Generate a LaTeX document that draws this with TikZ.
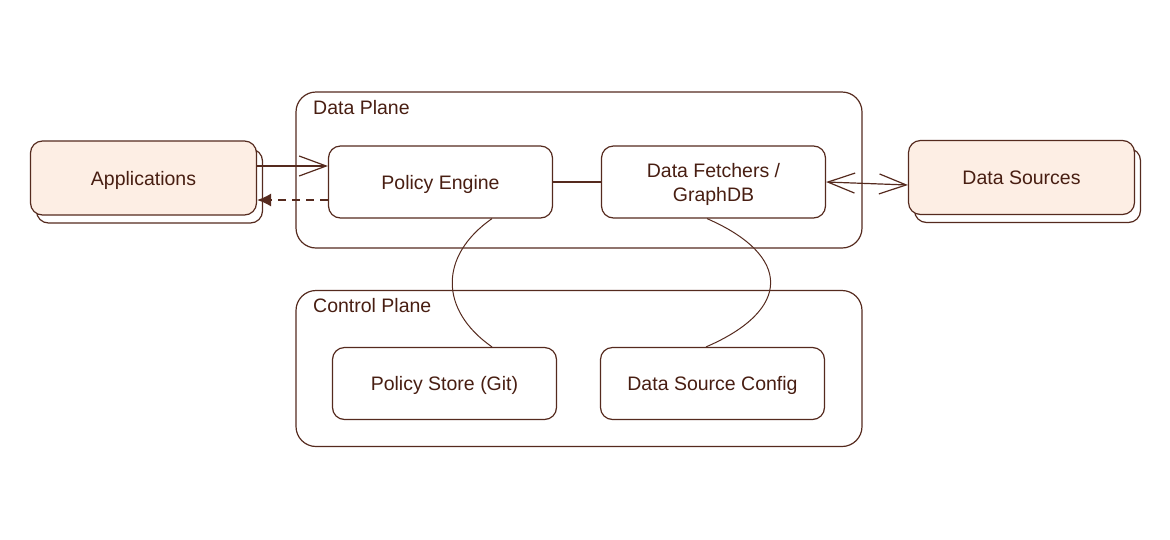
\documentclass[tikz,border=0pt]{standalone}
\usepackage{fontspec}
\setmainfont{Liberation Sans}
\usetikzlibrary{arrows.meta,shadows}
\definecolor{strokec}{RGB}{85,42,30}
\definecolor{textc}{RGB}{72,30,18}
\definecolor{peach}{RGB}{253,238,228}
\tikzset{
  base/.style={draw=strokec, line width=1.2pt, rounded corners=12pt, inner sep=0pt,
     text=textc, font=\fontsize{19.5}{24}\selectfont, align=center},
  inner/.style={base, fill=white, minimum width=224pt, minimum height=72pt, text depth=-3pt},
  ext/.style={base, fill=peach, minimum width=226pt, minimum height=74pt, text depth=-2pt,
     copy shadow={shadow xshift=6pt, shadow yshift=-8pt, fill=white, draw=strokec}},
  cont/.style={base, rounded corners=20pt, minimum width=566pt, minimum height=156pt},
  clabel/.style={text=textc, font=\fontsize{19.5}{24}\selectfont, inner sep=0pt, anchor=base west},
  conn/.style={draw=strokec, line width=1.2pt},
  barb/.tip={Straight Barb[length=27pt, width=20pt, line width=1.2pt]},
}
\begin{document}
\begin{tikzpicture}[x=1pt,y=-1pt]
\useasboundingbox (0,0) rectangle (1170,539);
\node[cont] (dp) at (579,170) {};
\node[cont] (cp) at (579,368.5) {};
\node[clabel] (dpl) at (313,114) {Data Plane};
\node[clabel] (cpl) at (313,312) {Control Plane};
\node[ext] (app) at (143.5,178) {Applications};
\node[ext] (ds) at (1021.5,177.5) {Data Sources};
\node[inner] (pe) at (440.5,182) {Policy Engine};
\node[inner] (df) at (713.5,182) {Data Fetchers /\\GraphDB};
\node[inner] (ps) at (444.5,383.5) {Policy Store (Git)};
\node[inner] (dsc) at (712.5,383.5) {Data Source Config};
% connectors
\draw[conn, -barb] ([yshift=12pt]app.east) -- ([yshift=12pt]app.east -| pe.west);
\draw[conn, dashed, dash pattern=on 8pt off 6pt, -{Latex[length=14pt,width=13pt]}] ([yshift=-18pt]pe.west) -- ([yshift=-18pt]pe.west -| app.east);
\draw[conn] (pe.east) -- (df.west);
\draw[conn, barb-barb] (df.east) -- ([yshift=-3pt]df.east -| ds.west);
\draw[conn, line width=1pt] ([xshift=51.5pt]pe.south) .. controls +(-53,37) and +(-53,-37) .. ([xshift=47.5pt]ps.north);
\draw[conn, line width=1pt] ([xshift=-6.5pt]df.south) .. controls +(85,37) and +(86,-37) .. ([xshift=-6.5pt]dsc.north);
\end{tikzpicture}
\end{document}
